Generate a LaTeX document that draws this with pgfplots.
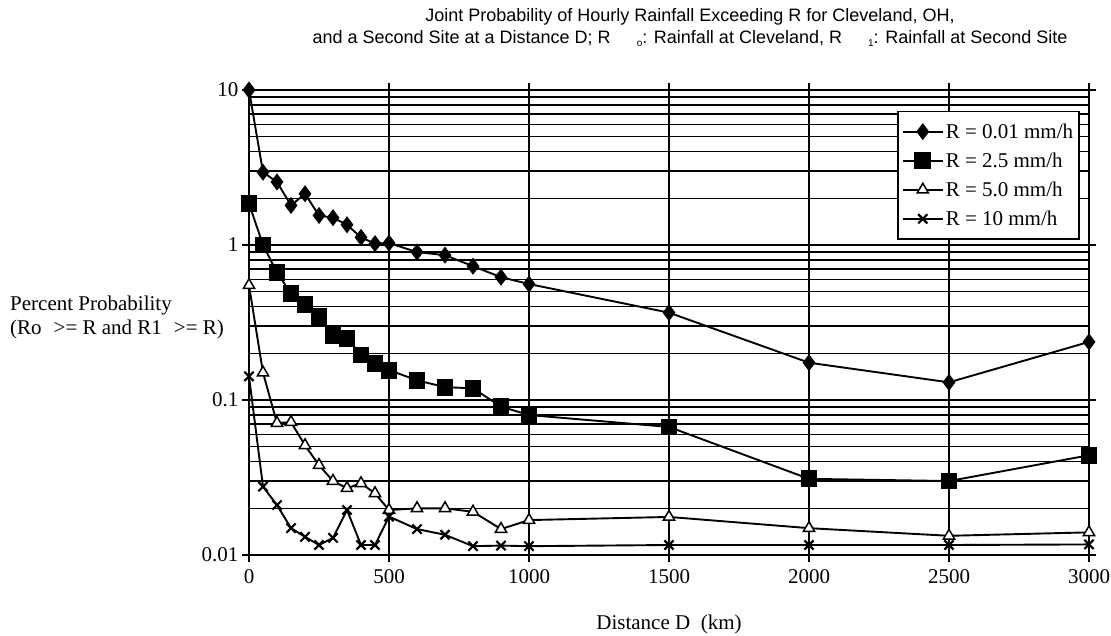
\documentclass[border=0pt]{standalone}
\usepackage{fontspec}
\setmainfont{Liberation Serif}
\newfontfamily\titlefont{Liberation Sans}
\usepackage{pgfplots}
\pgfplotsset{compat=1.18}

% font sizes in px (1pt = 1px here)
\newcommand{\lbl}{\fontsize{21}{24}\selectfont}

\begin{document}
\begin{tikzpicture}[x=1pt,y=1pt]
\path[use as bounding box] (0,0) rectangle (1111,636);

\begin{axis}[
    at={(249pt,81pt)}, anchor=south west,
    scale only axis, width=840pt, height=465pt,
    xmin=0, xmax=3000,
    ymode=log, ymin=0.01, ymax=10,
    xtick={0,500,1000,1500,2000,2500,3000},
    ytick={0.01,0.1,1,10}, yticklabels={0.01,0.1,1,10},
    xmajorgrids, ymajorgrids, yminorgrids,
    major grid style={black, line width=1.3pt},
    minor grid style={black, line width=1.3pt},
    axis line style={black, line width=1.3pt},
    tick style={black, line width=1.3pt},
    tick align=outside, major tick length=7pt, minor tick length=0pt,
    ticklabel style={font=\lbl},
    xticklabel style={yshift=-4pt},
    /pgf/number format/assume math mode=true,
    /pgf/number format/set thousands separator={},
    scaled x ticks=false,
    every axis plot/.append style={black, line width=1.9pt},
    legend style={at={(0.989,0.955)}, anchor=north east, draw=black,
        line width=1.3pt, font=\lbl, fill=white, row sep=9pt,
        inner xsep=4pt, inner ysep=10pt},
    legend cell align=left,
    legend image code/.code={
        \draw[mark repeat=2, mark phase=2, #1] plot coordinates {(0pt,0pt) (20pt,0pt) (40pt,0pt)};},
]
\addplot[mark=diamond*, mark size=7pt] coordinates {
 (0,10) (50,2.95) (100,2.55) (150,1.8) (200,2.14) (250,1.55) (300,1.5)
 (350,1.35) (400,1.12) (450,1.02) (500,1.03) (600,0.9) (700,0.86)
 (800,0.73) (900,0.62) (1000,0.56) (1500,0.366) (2000,0.174)
 (2500,0.13) (3000,0.237)
};
\addplot[mark=square*, mark size=7.5pt] coordinates {
 (0,1.85) (50,1.0) (100,0.665) (150,0.486) (200,0.415) (250,0.345)
 (300,0.262) (350,0.25) (400,0.195) (450,0.172) (500,0.156) (600,0.134)
 (700,0.121) (800,0.119) (900,0.0906) (1000,0.080) (1500,0.067)
 (2000,0.031) (2500,0.030) (3000,0.044)
};
\addplot[mark=triangle*, mark size=6.5pt, mark options={fill=white, line width=1.5pt}] coordinates {
 (0,0.55) (50,0.15) (100,0.071) (150,0.072) (200,0.051) (250,0.038)
 (300,0.030) (350,0.027) (400,0.029) (450,0.025) (500,0.0195) (600,0.020)
 (700,0.020) (800,0.019) (900,0.0147) (1000,0.0168) (1500,0.0176)
 (2000,0.0149) (2500,0.0133) (3000,0.0140)
};
\addplot[mark=x, mark size=6.5pt, mark options={line width=2.2pt}] coordinates {
 (0,0.142) (50,0.0276) (100,0.021) (150,0.0149) (200,0.0131) (250,0.0116)
 (300,0.0129) (350,0.0195) (400,0.0116) (450,0.0116) (500,0.0177)
 (600,0.0147) (700,0.0135) (800,0.0114) (900,0.0115) (1000,0.0114)
 (1500,0.0116) (2000,0.0116) (2500,0.0116) (3000,0.0117)
};
\legend{R = 0.01 mm/h, R = 2.5 mm/h, R = 5.0 mm/h, R = 10 mm/h}
\end{axis}

% title
\node[font=\titlefont\fontsize{18}{20}\selectfont] at (690,619)
  {Joint Probability of Hourly Rainfall Exceeding R for Cleveland, OH,};
\node[font=\titlefont\fontsize{18}{20}\selectfont] at (690,597)
  {and a Second Site at a Distance D; R\hspace{26pt}\raisebox{-3pt}{\fontsize{10}{10}\selectfont o}: Rainfall at Cleveland, R\hspace{26pt}\raisebox{-3pt}{\fontsize{10}{10}\selectfont 1}: Rainfall at Second Site};

% y label
\node[anchor=west, font=\lbl, inner sep=0pt] at (10,331) {Percent Probability};
\node[anchor=west, font=\lbl, inner sep=0pt] at (10,307) {(Ro\hspace{12pt}>= R and R1\hspace{12pt}>= R)};

% x label
\node[font=\lbl] at (669,12) {Distance D\ \ (km)};
\end{tikzpicture}
\end{document}
